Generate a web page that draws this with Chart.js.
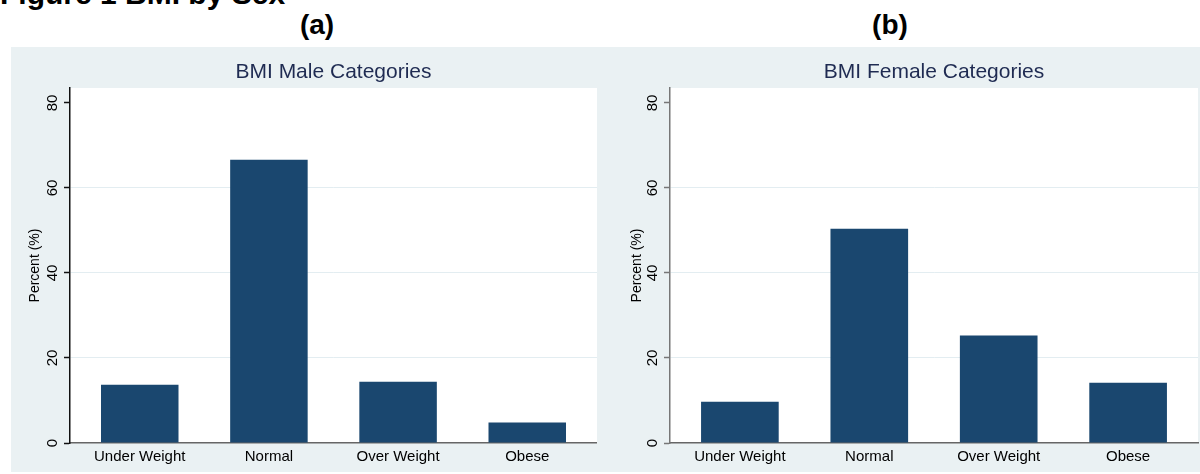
<!DOCTYPE html>
<html>
<head>
<meta charset="utf-8">
<script src="https://cdn.jsdelivr.net/npm/chart.js@4.4.0/dist/chart.umd.min.js"></script>
<style>
    body { margin: 0; width: 1200px; height: 474px; overflow: hidden; background: #fff; position: relative;
           font-family: "Liberation Sans", Arial, sans-serif; }
    #bg { position: absolute; left: 11px; top: 47px; width: 1189px; height: 425px; background: #eaf1f3; }
    #fig { position: absolute; left: 0; top: -21px; font-size: 30px; line-height: 30px; font-weight: bold; white-space: nowrap; }
    .lab { position: absolute; top: 11px; width: 100px; text-align: center; font-size: 28px; line-height: 28px; font-weight: bold; }
    canvas { position: absolute; top: 47px; }
</style>
</head>
<body>
<div id="bg"></div>
<div id="fig">Figure 1 BMI by Sex</div>
<div class="lab" style="left:267px">(a)</div>
<div class="lab" style="left:840px">(b)</div>
<canvas id="male" width="586" height="425" style="left:11px"></canvas>
<canvas id="female" width="603" height="425" style="left:597px"></canvas>
<script>
// data
const categories = ['Under Weight', 'Normal', 'Over Weight', 'Obese'];
const maleValues = [13.7, 66.6, 14.4, 4.8];
const femaleValues = [9.7, 50.4, 25.3, 14.2];
const yTicks = [0, 20, 40, 60, 80];

const barColor = '#1a476f';
const fontFamily = '"Liberation Sans", Arial, sans-serif';

// white plot region on the tinted panel
const plotBg = {
    id: 'plotBg',
    beforeDraw(chart) {
        const a = chart.chartArea;
        const ctx = chart.ctx;
        ctx.save();
        ctx.fillStyle = '#fff';
        ctx.fillRect(a.left, a.top, a.right - a.left, a.bottom - a.top);
        ctx.restore();
    }
};

// y tick labels in the picture read bottom-to-top, so draw them rotated
const rotTicks = {
    id: 'rotTicks',
    afterDraw(chart, args, opts) {
        const ctx = chart.ctx;
        const y = chart.scales.y;
        ctx.save();
        ctx.font = '15px ' + fontFamily;
        ctx.fillStyle = '#000';
        ctx.textAlign = 'center';
        ctx.textBaseline = 'middle';
        yTicks.forEach(function(v) {
            ctx.save();
            ctx.translate(opts.x, y.getPixelForValue(v));
            ctx.rotate(-Math.PI / 2);
            ctx.fillText(String(v), 0, 0);
            ctx.restore();
        });
        ctx.restore();
    }
};

function makePanel(id, title, values, axisWidth, rightPad, labelX, titlePad, yAxisColor) {
    const ctx = document.getElementById(id).getContext('2d');
    return new Chart(ctx, {
        type: 'bar',
        data: {
            datasets: [{
                data: values.map((v, i) => ({ x: i, y: v })),
                backgroundColor: barColor,
                borderWidth: 0,
                barPercentage: 0.6,
                categoryPercentage: 1
            }]
        },
        options: {
            responsive: false,
            animation: false,
            layout: { padding: { left: 0, right: rightPad, top: 0, bottom: 0 } },
            plugins: {
                legend: { display: false },
                tooltip: { enabled: false },
                title: {
                    display: true,
                    text: title,
                    fullSize: false,
                    color: '#1f2b52',
                    font: { family: fontFamily, size: 21, weight: 'normal', lineHeight: 1.2 },
                    padding: { top: 13, bottom: 2.8 }
                },
                rotTicks: { x: labelX }
            },
            scales: {
                x: {
                    type: 'linear',
                    offset: false,
                    min: -0.54,
                    max: 3.54,
                    afterBuildTicks: function(scale) {
                        scale.ticks = categories.map((c, i) => ({ value: i }));
                    },
                    afterFit: function(scale) { scale.height = 29; },
                    grid: { display: false, drawTicks: false },
                    border: { display: true, color: '#666', width: 1.5 },
                    ticks: {
                        padding: 5,
                        color: '#000',
                        maxRotation: 0,
                        autoSkip: false,
                        font: { family: fontFamily, size: 15 },
                        callback: function(v) { return categories[v]; }
                    }
                },
                y: {
                    min: 0,
                    max: 83.5,
                    afterBuildTicks: function(scale) {
                        scale.ticks = yTicks.map(v => ({ value: v }));
                    },
                    afterFit: function(scale) { scale.width = axisWidth; },
                    grid: {
                        color: function(c) {
                            return (c.tick && (c.tick.value === 0 || c.tick.value === 80)) ? 'rgba(0,0,0,0)' : '#e3edf1';
                        },
                        lineWidth: 1,
                        drawTicks: true,
                        tickLength: 6,
                        tickColor: yAxisColor,
                        tickWidth: 1.5
                    },
                    border: { display: true, color: yAxisColor, width: 1.5 },
                    ticks: { display: false },
                    title: {
                        display: true,
                        text: 'Percent (%)',
                        color: '#000',
                        font: { family: fontFamily, size: 14, lineHeight: 1.2 },
                        padding: { top: titlePad, bottom: 0 }
                    }
                }
            }
        },
        plugins: [plotBg, rotTicks]
    });
}

makePanel('male', 'BMI Male Categories', maleValues, 59, 0, 41.5, 15.6, '#111');
makePanel('female', 'BMI Female Categories', femaleValues, 73, 2, 56, 31.6, '#777');
</script>
</body>
</html>
